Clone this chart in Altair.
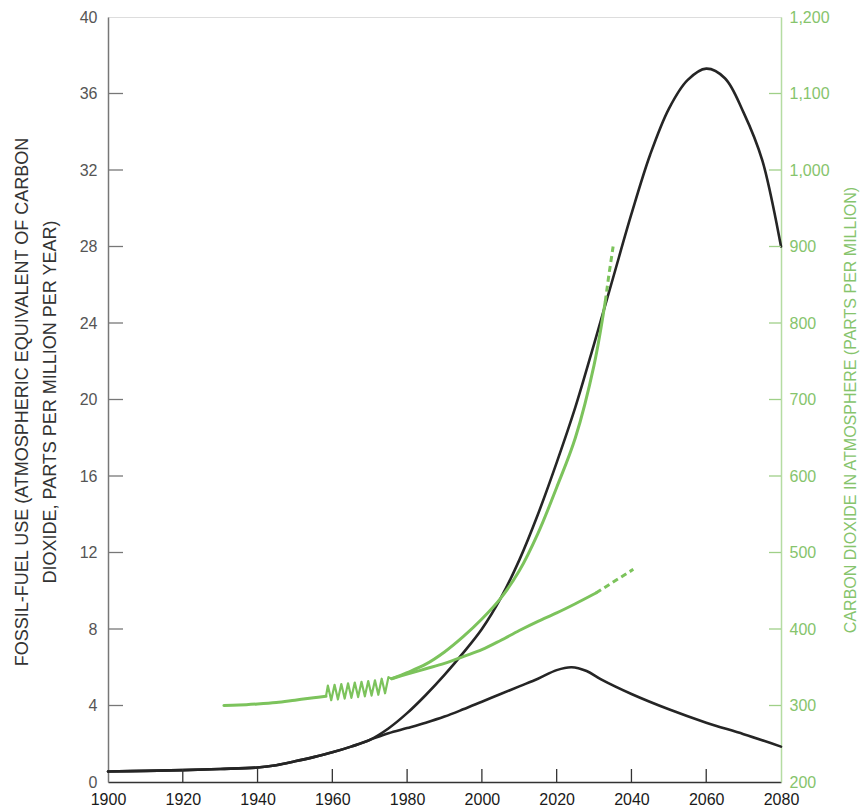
import altair as alt
import pandas as pd

# ---------------- data ----------------
# Fossil-fuel use (left axis), historical part shared by both scenarios
hist_years = [1900, 1910, 1920, 1930, 1940, 1945, 1950, 1955, 1960, 1965, 1970]
hist_use = [0.55, 0.58, 0.62, 0.68, 0.76, 0.88, 1.08, 1.3, 1.55, 1.85, 2.2]

high_years = [1975, 1980, 1985, 1990, 1995, 2000, 2005, 2010, 2015, 2020, 2025,
              2030, 2035, 2040, 2045, 2050, 2055, 2060, 2065, 2070, 2075, 2080]
high_use = [2.8, 3.6, 4.55, 5.6, 6.75, 8.0, 9.6, 11.6, 14.0, 16.7, 19.6,
            22.9, 26.3, 29.7, 32.8, 35.2, 36.7, 37.3, 36.8, 35.0, 32.5, 28.0]

low_years = [1975, 1980, 1985, 1990, 1995, 2000, 2005, 2010, 2015, 2020, 2024,
             2028, 2032, 2040, 2050, 2060, 2070, 2080]
low_use = [2.55, 2.82, 3.1, 3.42, 3.8, 4.2, 4.6, 5.0, 5.4, 5.85, 6.0,
           5.8, 5.35, 4.6, 3.8, 3.1, 2.5, 1.85]

# Carbon dioxide in atmosphere (right axis, ppm)
pre_years = [1931, 1935, 1940, 1945, 1950, 1955, 1958.3]
pre_ppm = [300, 300.5, 302, 304, 307, 310, 312]

zig_years = [1958.3, 1958.8, 1959.7, 1960.6, 1961.5, 1962.4, 1963.3, 1964.2, 1965.1,
             1966.0, 1966.9, 1967.8, 1968.7, 1969.6, 1970.5, 1971.4, 1972.3, 1973.2,
             1974.1, 1975.0, 1975.9]
zig_ppm = [312, 326, 307, 327, 308, 328, 309, 329, 310,
           330, 311, 331, 312, 332, 313, 333, 314, 335,
           316, 337, 335]

up_years = [1975.9, 1980, 1985, 1990, 1995, 2000, 2005, 2010, 2015, 2020, 2025, 2030, 2033]
up_ppm = [335, 343, 354, 370, 390, 413, 440, 476, 525, 585, 650, 745, 828]
up_dash_years = [2033, 2034, 2035.1]
up_dash_ppm = [828, 864, 900]

lo_years = [1975.9, 1980, 1985, 1990, 1995, 2000, 2005, 2010, 2015, 2020, 2025, 2030.5]
lo_ppm = [335, 341, 348, 355, 364, 373, 385, 398, 410, 421, 433, 447]
lo_dash_years = [2030.5, 2035, 2040.5]
lo_dash_ppm = [447, 461, 478]

x_ticks = [1900, 1920, 1940, 1960, 1980, 2000, 2020, 2040, 2060, 2080]
left_ticks = [0, 4, 8, 12, 16, 20, 24, 28, 32, 36, 40]
right_ticks = [200, 300, 400, 500, 600, 700, 800, 900, 1000, 1100, 1200]

left_title = ["FOSSIL-FUEL USE (ATMOSPHERIC EQUIVALENT OF CARBON",
              "DIOXIDE, PARTS PER MILLION PER YEAR)"]
right_title = "CARBON DIOXIDE IN ATMOSPHERE (PARTS PER MILLION)"

# ---------------- build tables ----------------
black_df = pd.concat([
    pd.DataFrame({"year": hist_years + high_years, "use": hist_use + high_use, "series": "high"}),
    pd.DataFrame({"year": hist_years + low_years, "use": hist_use + low_use, "series": "low"}),
])
green_smooth_df = pd.concat([
    pd.DataFrame({"year": pre_years, "ppm": pre_ppm, "series": "pre"}),
    pd.DataFrame({"year": up_years, "ppm": up_ppm, "series": "up"}),
    pd.DataFrame({"year": lo_years, "ppm": lo_ppm, "series": "lo"}),
])
zig_df = pd.DataFrame({"year": zig_years, "ppm": zig_ppm})
dash_df = pd.concat([
    pd.DataFrame({"year": up_dash_years, "ppm": up_dash_ppm, "series": "up"}),
    pd.DataFrame({"year": lo_dash_years, "ppm": lo_dash_ppm, "series": "lo"}),
])
lt_df = pd.DataFrame({"use": left_ticks[1:-1]})
bt_df = pd.DataFrame({"year": x_ticks[1:-1]})
rt_df = pd.DataFrame({"ppm": right_ticks[1:-1]})

W, H = 673, 765
FONT = "Liberation Sans"
GREEN = "#7cc35c"
GREEN_TXT = "#86c46c"
BLACK = "#252525"

xscale = alt.Scale(domain=[1900, 2080], nice=False, zero=False)
yl_scale = alt.Scale(domain=[0, 40], nice=False)
yr_scale = alt.Scale(domain=[200, 1200], nice=False, zero=False)

x_axis = alt.Axis(values=x_ticks, format="d", ticks=False, grid=False,
                  domainColor="#333333", domainWidth=1.5, labelColor="#1a1a1a",
                  labelFontSize=16, labelPadding=9, labelFlush=False,
                  labelOverlap=False, labelFont=FONT, title=None)
yl_axis = alt.Axis(values=left_ticks, ticks=False, grid=False,
                   domainColor="#777777", domainWidth=1.5, labelColor="#555555",
                   labelFontSize=16, labelPadding=11, labelFlush=False,
                   labelOverlap=False, labelFont=FONT,
                   title=left_title, titleFont=FONT, titleFontSize=18,
                   titleFontWeight="normal", titleColor="#333333",
                   titleAngle=270, titleX=-86, titleY=H / 2 + 2,
                   titleAlign="center", titleBaseline="middle", titleLineHeight=28)
yr_axis = alt.Axis(orient="right", values=right_ticks, format=",d", ticks=False,
                   grid=False, domainColor="#b5dca2", domainWidth=1.5,
                   labelColor=GREEN_TXT, labelFontSize=16, labelPadding=8,
                   labelFlush=False, labelOverlap=False, labelFont=FONT,
                   title=right_title, titleFont=FONT, titleFontSize=16,
                   titleFontWeight="normal", titleColor=GREEN_TXT,
                   titleAngle=270, titleX=69, titleY=H / 2 + 10,
                   titleAlign="center", titleBaseline="middle")

X = alt.X("year:Q", scale=xscale, axis=x_axis)
YL = alt.Y("use:Q", scale=yl_scale, axis=yl_axis)
YR = alt.Y("ppm:Q", scale=yr_scale, axis=yr_axis)

black = alt.Chart(black_df).mark_line(
    interpolate="catmull-rom", color=BLACK, strokeWidth=2.6, strokeCap="round"
).encode(x=X, y=YL, detail="series:N", order="year:Q")
lticks = alt.Chart(lt_df).mark_rule(color="#777777", strokeWidth=1.3).encode(
    y=YL, x=alt.value(0), x2=alt.value(15))
bticks = alt.Chart(bt_df).mark_rule(color="#333333", strokeWidth=1.3).encode(
    x=X, y=alt.value(H), y2=alt.value(H - 13))
left = alt.layer(black, lticks, bticks)

green_smooth = alt.Chart(green_smooth_df).mark_line(
    interpolate="catmull-rom", color=GREEN, strokeWidth=3, strokeCap="round"
).encode(x=X, y=YR, detail="series:N", order="year:Q")
green_zig = alt.Chart(zig_df).mark_line(
    interpolate="linear", color=GREEN, strokeWidth=2.2, strokeJoin="round"
).encode(x=X, y=YR, order="year:Q")
green_dash = alt.Chart(dash_df).mark_line(
    interpolate="linear", color=GREEN, strokeWidth=3, strokeDash=[6, 4]
).encode(x=X, y=YR, detail="series:N", order="year:Q")
rticks = alt.Chart(rt_df).mark_rule(color="#9fd088", strokeWidth=1.3).encode(
    y=YR, x=alt.value(W - 12), x2=alt.value(W))
right = alt.layer(green_smooth, green_zig, green_dash, rticks)

chart = alt.layer(left, right).resolve_scale(y="independent").properties(
    width=W, height=H,
    autosize=alt.AutoSizeParams(type="none"),
    padding={"left": 100, "top": 9, "right": 79, "bottom": 28},
).configure_view(stroke="#999999", strokeWidth=1.2).configure(background="white")

chart.save("out.html", embed_options={"renderer": "svg", "actions": False})
